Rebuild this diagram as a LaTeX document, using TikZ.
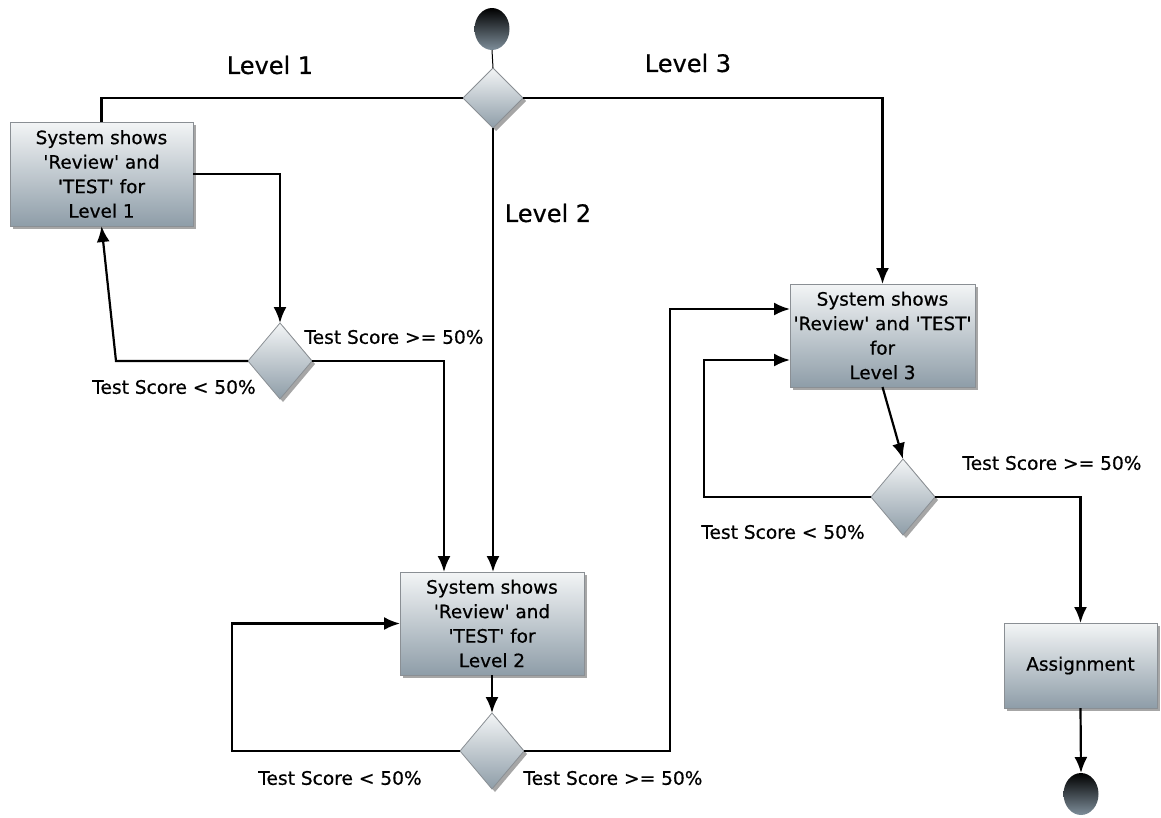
\documentclass[tikz,border=0pt]{standalone}
\usepackage{fontspec}
\setmainfont{DejaVu Sans}[FakeBold=0.6]
\usetikzlibrary{shapes.geometric,arrows.meta,shadows}
\definecolor{boxtop}{HTML}{F3F5F6}
\definecolor{boxbot}{HTML}{8E9DA8}
\definecolor{boxline}{HTML}{8A8F94}
\definecolor{termbot}{HTML}{7E8E9A}
\newcommand{\sq}{\textquotesingle}
\begin{document}
\begin{tikzpicture}[x=1pt,y=-1pt,
  every node/.style={inner sep=0pt, outer sep=0pt},
  softshadow/.style={drop shadow={shadow xshift=3pt, shadow yshift=-3pt, opacity=0.35, fill=black}},
  actbox/.style={rectangle, draw=boxline, line width=0.8pt, top color=boxtop, bottom color=boxbot,
    softshadow, align=center, font=\fontsize{18.4}{24.5}\selectfont},
  choice/.style={diamond, draw=boxline, line width=0.8pt, top color=boxtop, bottom color=boxbot,
    softshadow, minimum width=64pt, minimum height=76pt},
  terminal/.style={ellipse, top color=black, bottom color=termbot, minimum width=35pt, minimum height=42pt},
  flow/.style={line width=2.2pt, -{Latex[length=16pt,width=13pt]}},
  plain/.style={line width=2.2pt},
  guard/.style={font=\fontsize{18.6}{21}\selectfont},
  lvl/.style={font=\fontsize{24}{27}\selectfont}]
\useasboundingbox (0,0) rectangle (1161,817);

% terminals
\node[terminal] (start) at (492,29) {};
\node[terminal] (finish) at (1081,794) {};

% decisions
\node[choice, minimum width=60pt, minimum height=60pt] (dtop) at (493,98) {};
\node[choice] (d1) at (280,361) {};
\node[choice] (d2) at (492,751) {};
\node[choice] (d3) at (903,497) {};

% activities
\node[actbox, minimum width=183pt, minimum height=104pt] (box1) at (101.5,174)
  {System shows\\\sq Review\sq{} and\\\sq TEST\sq{} for\\Level 1};
\node[actbox, minimum width=184pt, minimum height=103pt] (box2) at (492,623.5)
  {System shows\\\sq Review\sq{} and\\\sq TEST\sq{} for\\Level 2};
\node[actbox, minimum width=185pt, minimum height=103pt] (box3) at (882.5,335.5)
  {System shows\\\sq Review\sq{} and \sq TEST\sq\\for\\Level 3};
\node[actbox, minimum width=153pt, minimum height=85pt] (assign) at (1080.5,665.5) {Assignment};

% level labels
\node[lvl] (l1) at (270,65) {Level 1};
\node[lvl] (l2) at (548,213) {Level 2};
\node[lvl] (l3) at (688,63) {Level 3};

% guard labels
\node[guard] (g1a) at (394,337) {Test Score >= 50\%};
\node[guard] (g1b) at (174,387) {Test Score < 50\%};
\node[guard] (g2a) at (613,778) {Test Score >= 50\%};
\node[guard] (g2b) at (340,778) {Test Score < 50\%};
\node[guard] (g3a) at (1052,463) {Test Score >= 50\%};
\node[guard] (g3b) at (783,532) {Test Score < 50\%};

% bend points
\coordinate (k1) at (116,361);
\coordinate (k2) at (232,623.5);
\coordinate (k3) at (670,309);
\coordinate (k4) at (704,360);

% connectors
\draw[line width=1pt] (start.south) -- (dtop.north);
\draw[plain] (dtop.west) -| (box1.north);
\draw[flow] (dtop.east) -| (box3.north);
\draw[flow] (dtop.south) -- (dtop.south |- box2.north);

\draw[flow] (box1.east) -| (d1.north);
\draw[flow] (d1.west) -- (k1) -- (box1.south);
\draw[flow] (d1.east) -| ([xshift=-48pt]box2.north);

\draw[flow] (box2.south) -- (d2.north);
\draw[flow] (d2.west) -| (k2) -- (box2.west);
\draw[flow] (d2.east) -| (k3) -- (k3 -| box3.west);

\draw[flow] (box3.south) -- (d3.north);
\draw[flow] (d3.west) -| (k4) -- (k4 -| box3.west);
\draw[flow] (d3.east) -| (assign.north);
\draw[flow] (assign.south) -- (finish.north);
\end{tikzpicture}
\end{document}
